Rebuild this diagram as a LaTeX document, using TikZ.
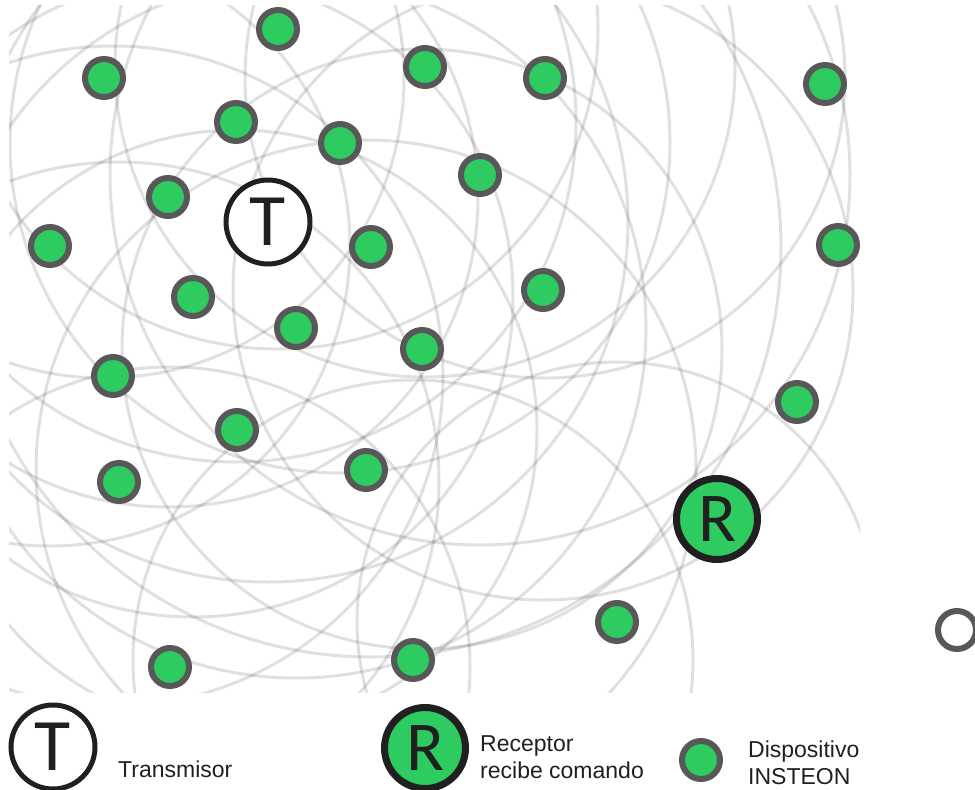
\documentclass[tikz,border=0pt]{standalone}
\usepackage{fontspec}
\setmainfont{Liberation Sans}
\newfontfamily\letra{Carlito}
\usepackage{xcolor}
\usepackage{tikz}
\definecolor{verde}{RGB}{46,203,96}
\definecolor{bordegris}{RGB}{88,88,88}
\definecolor{negro}{RGB}{32,32,32}
\tikzset{
 disp/.style={circle,draw=bordegris,fill=verde,line width=6pt,minimum size=38pt,inner sep=0pt},
 trans/.style={circle,draw=negro,fill=white,line width=5pt,minimum size=84pt,inner sep=0pt,font=\letra\fontsize{74}{74}\selectfont,text=negro},
 recep/.style={circle,draw=negro,fill=verde,line width=7pt,minimum size=81pt,inner sep=0pt,font=\letra\fontsize{70}{70}\selectfont,text=negro},
 onda/.style={draw=black,opacity=0.12,line width=3pt},
 leyenda/.style={anchor=base west,inner sep=0pt,font=\fontsize{23}{27}\selectfont,text=negro,align=left}
}

\begin{document}
\begin{tikzpicture}[x=1pt,y=-1pt]
\useasboundingbox(0,0)rectangle(975,790);

% posiciones de los dispositivos
\foreach\x/\y[count=\i]in{278/29,104/78,425/67,545/78,825/84,236/122,340/143,480/175,168/197,50/246,371/247,838/245,193/297,543/290,296/328,422/349,113/376,797/402,237/430,119/482,366/470,617/622,170/667,413/660}\coordinate(p\i)at(\x,\y);
\coordinate(pT)at(268,222);

% ondas
\begin{scope}
\clip(9,5)rectangle(860,692);
\foreach\i/\r in{1/320,2/300,3/310,4/300,6/340,7/330,8/370,9/310,10/300,11/410,13/320,14/310,15/350,16/300,17/330,19/300,20/320,21/330,22/260,23/300,24/280}\draw[onda](p\i)circle[radius=\r pt];
\draw[onda](pT)circle[radius=360pt];
\end{scope}

\foreach\i in{1,...,24}\node[disp](d\i)at(p\i){};
\node[trans](T)at(pT){T};
\node[recep](R)at(717,519){R};
\node[disp,fill=white](anillo)at(957,630){};

% leyenda
\node[trans](leyT)at(53,747){T};
\node[leyenda](txtT)at(118,777){Transmisor};
\node[recep](leyR)at(425,748){R};
\node[leyenda](txtR)at(480,778){Receptor\\recibe comando};
\node[disp](leyD)at(701,760){};
\node[leyenda](txtD)at(748,784){Dispositivo\\INSTEON};

\end{tikzpicture}
\end{document}
